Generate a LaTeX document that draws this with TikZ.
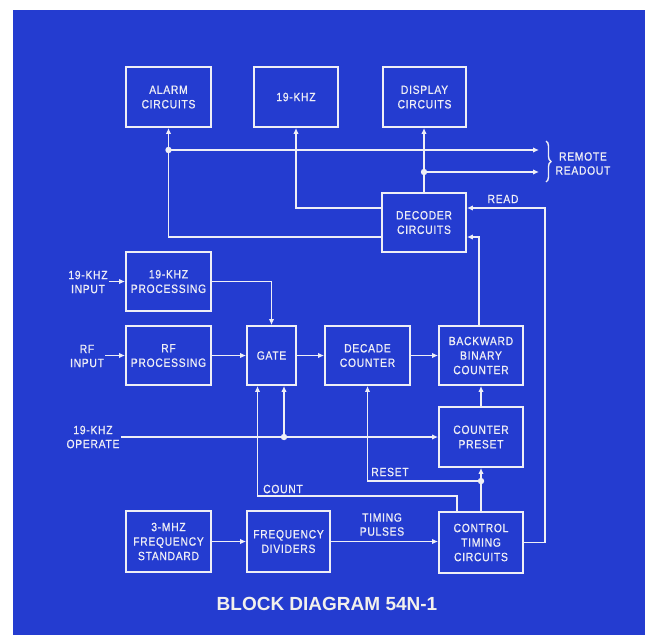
\documentclass[tikz,border=0pt]{standalone}
\usepackage{fontspec}
\setmainfont{Liberation Sans}
\newfontfamily\boxfont{Liberation Sans}[FakeStretch=0.86,LetterSpace=6,FakeBold=0.8]
\newfontfamily\titlefont{Liberation Sans}
\usetikzlibrary{arrows.meta,decorations.pathreplacing}
\definecolor{bg}{RGB}{36,60,208}
\definecolor{lc}{RGB}{238,238,246}
\definecolor{tc}{RGB}{242,240,236}
\tikzset{
  blk/.style={draw=lc, line width=1.9pt, text=lc, align=center, inner sep=0pt,
    font=\boxfont\fontsize{12pt}{14.5pt}\selectfont},
  lbl/.style={text=lc, align=center, inner sep=1pt,
    font=\boxfont\fontsize{12pt}{14pt}\selectfont},
  wire/.style={draw=lc, line width=1.8pt},
  arr/.style={wire, -{Latex[length=6pt,width=5.5pt]}},
  jdot/.style={fill=lc}
}
\begin{document}
\begin{tikzpicture}[x=1pt,y=-1pt]
\useasboundingbox (0,0) rectangle (645,635);
\fill[white] (0,0) rectangle (645,635);
\fill[bg] (13,10) rectangle (645,635);

% blocks
\node[blk, minimum width=85pt, minimum height=60pt] (alarm) at (168.5,97) {ALARM\\CIRCUITS};
\node[blk, minimum width=84pt, minimum height=60pt] (khz) at (296,97) {19-KHZ};
\node[blk, minimum width=83pt, minimum height=60pt] (display) at (424.5,97) {DISPLAY\\CIRCUITS};
\node[blk, minimum width=84pt, minimum height=59pt] (decoder) at (424,222.5) {DECODER\\CIRCUITS};
\node[blk, minimum width=85pt, minimum height=59pt] (khzproc) at (168.5,281.5) {19-KHZ\\PROCESSING};
\node[blk, minimum width=85pt, minimum height=59pt] (rfproc) at (168.5,355.5) {RF\\PROCESSING};
\node[blk, minimum width=49pt, minimum height=59pt] (gate) at (271.5,355.5) {GATE};
\node[blk, minimum width=85pt, minimum height=59pt] (decade) at (367.5,355.5) {DECADE\\COUNTER};
\node[blk, minimum width=84pt, minimum height=59pt] (backward) at (481,355.5) {BACKWARD\\BINARY\\COUNTER};
\node[blk, minimum width=84pt, minimum height=60pt] (preset) at (481,437) {COUNTER\\PRESET};
\node[blk, minimum width=85pt, minimum height=61pt] (std) at (168.5,541.5) {3-MHZ\\FREQUENCY\\STANDARD};
\node[blk, minimum width=83pt, minimum height=61pt] (dividers) at (288.5,541.5) {FREQUENCY\\DIVIDERS};
\node[blk, minimum width=84pt, minimum height=61pt] (ctrl) at (481,542.5) {CONTROL\\TIMING\\CIRCUITS};

% outside labels
\node[lbl] (in19) at (88,282) {19-KHZ\\INPUT};
\node[lbl] (inrf) at (87,356) {RF\\INPUT};
\node[lbl] (op) at (93,437) {19-KHZ\\OPERATE};
\node[lbl] (remote) at (583,163.5) {REMOTE\\READOUT};
\node[lbl] (readl) at (503,199) {READ};
\node[lbl] (countl) at (283,489) {COUNT};
\node[lbl] (resetl) at (390,472) {RESET};
\node[lbl] (timingl) at (382,524.5) {TIMING\\PULSES};
\node[text=tc, inner sep=0pt, font=\titlefont\bfseries\fontsize{19pt}{22pt}\selectfont] (title) at (327,604) {BLOCK DIAGRAM 54N-1};

% top outputs of decoder
\draw[arr] ([yshift=14.5pt]decoder.west) -| (khz.south);
\draw[arr] ([yshift=-14.5pt]decoder.west) -| (alarm.south);
\draw[arr] (decoder.north) -- (decoder.north |- display.south);

% remote readout
\coordinate (ra) at (539,150);
\coordinate (rb) at (539,172);
\coordinate (ja) at (alarm.south |- ra);
\coordinate (jb) at (decoder.north |- rb);
\draw[arr] (ja) -- (ra);
\draw[arr] (jb) -- (rb);
\fill[jdot] (ja) circle (3.2pt);
\fill[jdot] (jb) circle (3.2pt);
\draw[draw=lc, line width=1.4pt, decorate, decoration={brace, amplitude=5pt}] (546,141) -- (546,182);

% READ
\draw[arr] (ctrl.east) -- ++(21pt,0pt) |- ([yshift=14.5pt]decoder.east);
% backward -> decoder
\draw[arr] ([xshift=-2pt]backward.north) |- ([yshift=-14.5pt]decoder.east);

% inputs
\draw[arr] (khzproc.west -| in19.east) -- (khzproc.west);
\draw[arr] (rfproc.west -| inrf.east) -- (rfproc.west);
\draw[arr] (khzproc.east) -| (gate.north);
\draw[arr] (rfproc) -- (gate);
\draw[arr] (gate) -- (decade);
\draw[arr] (decade) -- (backward);

% operate
\draw[arr] (op.east |- preset.west) -- (preset.west);
\path ([xshift=12.5pt]gate.south) coordinate (gs2);
\path ([xshift=-14pt]gate.south) coordinate (gs1);
\coordinate (jop) at (gs2 |- preset.west);
\draw[arr] (jop) -- (gs2);
\fill[jdot] (jop) circle (3.2pt);

% COUNT
\draw[arr] ([xshift=-24pt]ctrl.north) -- ++(0pt,15pt) -| (gs1);

% RESET
\coordinate (jr) at ([yshift=30pt]ctrl.north);
\draw[arr] (ctrl.north) -- (preset.south);
\draw[arr] (jr) -| (decade.south);
\fill[jdot] (jr) circle (3.2pt);

% preset -> backward
\draw[arr] (preset.north) -- (backward.south);

% timing chain
\draw[arr] (std) -- (dividers);
\draw[arr] (dividers.east) -- (dividers.east -| ctrl.west);
\end{tikzpicture}
\end{document}
